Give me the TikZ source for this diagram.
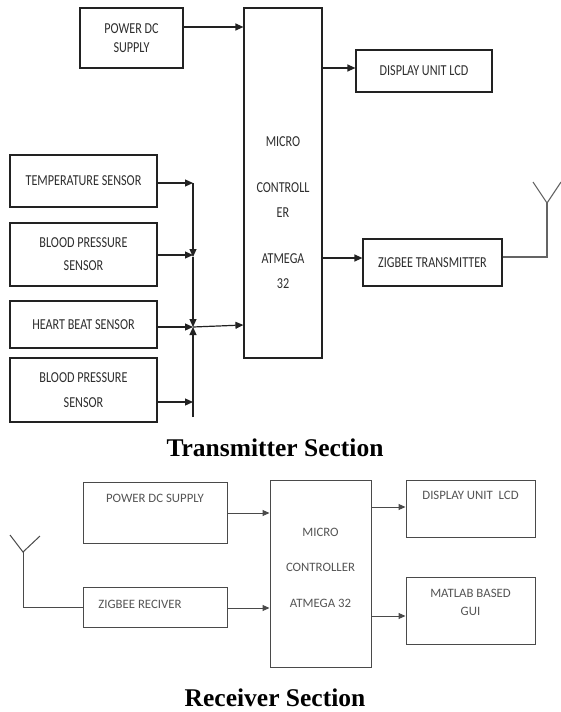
\documentclass[tikz,border=0pt]{standalone}
\usepackage{fontspec}
\setmainfont{Carlito}
\newfontfamily\tfont[FakeStretch=0.8]{Carlito}
\newfontfamily\titlefont{Liberation Serif}
\usetikzlibrary{arrows.meta}
\definecolor{tline}{HTML}{222222}
\definecolor{rline}{HTML}{4A4A4A}
\definecolor{ttext}{HTML}{2E2E2E}
\definecolor{rtext}{HTML}{555555}
\tikzset{
  tbox/.style={draw=tline, line width=1.2pt, inner sep=0pt, align=center, text=ttext,
    font=\tfont\fontsize{15.2}{22}\selectfont},
  rbox/.style={draw=rline, line width=1pt, inner sep=0pt, align=center, text=rtext,
    font=\fontsize{12.8}{18}\selectfont},
  tarr/.style={draw=tline, line width=1.2pt, -{Triangle[length=8pt,width=7pt]}},
  rarr/.style={draw=rline, line width=1pt, -{Triangle[length=7pt,width=6pt]}},
  tant/.style={draw=tline!70, line width=1.1pt},
  rant/.style={draw=rline, line width=1pt},
  sectitle/.style={font=\titlefont\bfseries\fontsize{25.5}{28}\selectfont, text=black},
}
\begin{document}
\begin{tikzpicture}[x=1pt,y=-1pt]
\useasboundingbox[fill=white] (0,0) rectangle (560,712);

% ---------------- Transmitter ----------------
\node[tbox, minimum width=103pt, minimum height=60pt] (tps) at (131.5,38) {\raisebox{-3pt}{POWER DC}\\SUPPLY};
\node[tbox, minimum width=78pt, minimum height=350pt] (tmc) at (283,183) {};
\node[text=ttext, font=\tfont\fontsize{15.2}{25}\selectfont, align=center, inner sep=0pt] (tmctxt) at (283,212.5)
  {MICRO\\[21pt]CONTROLL\\ER\\[21pt]ATMEGA\\32};
\node[tbox, minimum width=136pt, minimum height=42pt] (tlcd) at (424,71) {DISPLAY UNIT LCD};
\node[tbox, minimum width=139pt, minimum height=47pt] (tzb) at (432.5,262.5) {ZIGBEE TRANSMITTER};

\node[tbox, minimum width=147pt, minimum height=52pt] (ts1) at (83.5,181) {TEMPERATURE SENSOR};
\node[tbox, minimum width=147pt, minimum height=63pt, font=\tfont\fontsize{15.2}{23}\selectfont] (ts2) at (83.5,254.5) {BLOOD PRESSURE\\SENSOR};
\node[tbox, minimum width=147pt, minimum height=47pt] (ts3) at (83.5,324.5) {HEART BEAT SENSOR};
\node[tbox, minimum width=147pt, minimum height=64pt, font=\tfont\fontsize{15.2}{25}\selectfont] (ts4) at (83.5,390) {BLOOD PRESSURE\\SENSOR};

\coordinate (bt) at (193,183);
\coordinate (b2) at (193,257);
\coordinate (bj) at (193,327);
\coordinate (bb) at (193,417);

\draw[tarr] (tps.east |- 0,27) -- (tmc.west |- 0,27);
\draw[tarr] (tmc.east |- 0,68) -- (tlcd.west |- 0,68);
\draw[tarr] (tmc.east |- 0,258) -- (tzb.west |- 0,258);

\draw[tarr] (ts1.east |- bt) -- (bt);
\draw[tarr] (ts2.east |- 0,255) -- (193,255);
\draw[tarr] (ts3.east |- bj) -- (bj);
\draw[tarr] (ts4.east |- 0,402) -- (193,402);

\draw[tarr] (bt) -- (b2);
\draw[tarr] (b2) -- (bj);
\draw[tarr] (bb) -- (bj);
\draw[tarr] (bj) -- (tmc.west |- 0,325);

% transmitter antenna
\coordinate (ta1) at (547,257);
\coordinate (taj) at (547,203);
\coordinate (tal) at (533,182);
\coordinate (tar) at (561,182);
\draw[tant] (tzb.east |- ta1) -- (ta1) -- (taj);
\draw[tant] (tal) -- (taj) -- (tar);

\node[sectitle] (ttitle) at (275,448) {Transmitter Section};

% ---------------- Receiver ----------------
\node[rbox, minimum width=144pt, minimum height=61pt,
  label={[anchor=center, text=rtext, font=\fontsize{12.8}{18}\selectfont, yshift=-17pt]north:POWER DC SUPPLY}] (rps) at (155,512.5) {};
\node[rbox, minimum width=144pt, minimum height=40pt,
  label={[anchor=center, text=rtext, font=\fontsize{12.8}{18}\selectfont, xshift=-15pt, yshift=3pt]center:ZIGBEE RECIVER}] (rzb) at (155,607) {};
\node[rbox, minimum width=101pt, minimum height=187pt] (rmc) at (320.5,573.5) {};
\node[text=rtext, font=\fontsize{12.8}{35.5}\selectfont, align=center, inner sep=0pt] (rmctxt) at (320.5,567.5)
  {MICRO\\CONTROLLER\\ATMEGA 32};
\node[rbox, minimum width=129pt, minimum height=57pt,
  label={[anchor=center, text=rtext, font=\fontsize{12.8}{18}\selectfont, yshift=-16pt]north:DISPLAY UNIT\ \ LCD}] (rlcd) at (470.5,508.5) {};
\node[rbox, minimum width=129pt, minimum height=67pt,
  label={[anchor=center, align=center, text=rtext, font=\fontsize{12.8}{18}\selectfont, yshift=8.5pt]center:MATLAB BASED\\GUI}] (rgui) at (470.5,610.5) {};

\draw[rarr] (rps.east |- 0,513) -- (rmc.west |- 0,513);
\draw[rarr] (rzb.east |- 0,608) -- (rmc.west |- 0,608);
\draw[rarr] (rmc.east |- 0,507) -- (rlcd.west |- 0,507);
\draw[rarr] (rmc.east |- 0,616) -- (rgui.west |- 0,616);

% receiver antenna
\coordinate (ra1) at (23,607);
\coordinate (raj) at (23,552);
\coordinate (ral) at (10,535);
\coordinate (rar) at (40,536);
\draw[rant] (rzb.west |- ra1) -- (ra1) -- (raj);
\draw[rant] (ral) -- (raj) -- (rar);

\node[sectitle] (rtitle) at (275,698) {Receiver Section};
\end{tikzpicture}
\end{document}
